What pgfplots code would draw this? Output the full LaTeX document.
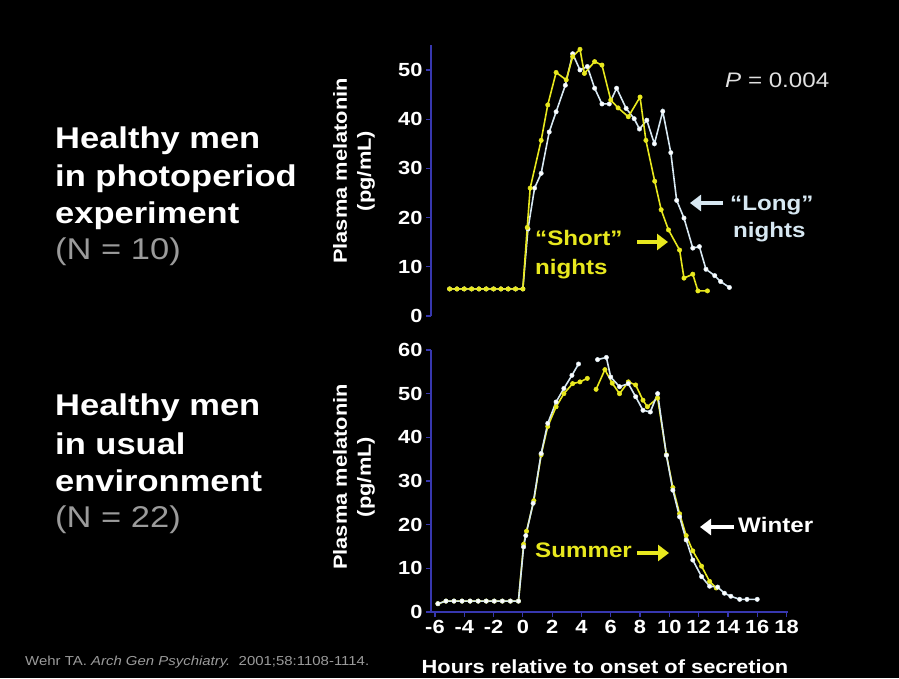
\documentclass[border=0pt]{standalone}
\usepackage{fontspec}
\setmainfont{Liberation Sans}[FakeStretch=1.15]
\usepackage{pgfplots}
\pgfplotsset{compat=1.18}
\usetikzlibrary{arrows.meta}
\definecolor{axblue}{RGB}{55,55,175}
\definecolor{ylw}{RGB}{232,232,30}
\definecolor{lng}{RGB}{215,232,242}
\definecolor{gry}{RGB}{155,155,155}
\definecolor{ptxt}{RGB}{225,225,225}
\pgfplotsset{melstyle/.style={
  scale only axis, width=357pt, xmin=-6.27, xmax=18.1,
  axis x line*=bottom, axis y line*=left,
  axis line style={axblue, line width=1.4pt},
  tick style={axblue, line width=1.2pt}, tick align=outside, major tick length=5pt,
  /pgf/number format/assume math mode=true,
  every tick label/.append style={text=white, font=\bfseries\fontsize{19}{21}\selectfont},
  unbounded coords=jump, clip=false,
},
wline/.style={lng, line width=1.6pt, mark=*, mark size=2.2pt, mark options={fill=white, draw=lng, line width=0.5pt}},
yline/.style={ylw, line width=1.6pt, mark=*, mark size=2.2pt, mark options={fill=ylw, draw=ylw, line width=0.5pt}},
}
\begin{document}
\begin{tikzpicture}[x=1pt,y=1pt]
\fill[black] (0,0) rectangle (899,678);

% ---------- top axis ----------
\begin{axis}[melstyle, at={(431pt,362pt)}, anchor=south west, height=270.6pt,
  ymin=0, ymax=55, hide x axis, ytick={0,10,...,50}]
\addplot[wline] coordinates {
(-5,5.5)(-4.5,5.5)(-4,5.5)(-3.5,5.5)(-3,5.5)(-2.5,5.5)(-2,5.5)(-1.5,5.5)(-1,5.5)(-0.5,5.5)(0,5.5)
(0.35,17.7)(0.8,26)(1.25,29)(1.8,37.4)(2.27,41.5)(2.9,46.9)(3.4,53.3)(3.9,50)(4.4,50.7)
(4.9,46.3)(5.4,43.1)(5.9,43.1)(6.4,46.3)(7.05,42.2)(7.6,40.1)(7.96,38)(8.46,39.8)(8.98,35)
(9.55,41.6)(10.1,33.2)(10.5,23.5)(11.0,19.9)(11.6,13.8)(12.05,14.1)(12.5,9.5)(13.1,8.2)
(13.5,7)(14.1,5.8)};
\addplot[yline] coordinates {
(-5,5.5)(-4.5,5.5)(-4,5.5)(-3.5,5.5)(-3,5.5)(-2.5,5.5)(-2,5.5)(-1.5,5.5)(-1,5.5)(-0.5,5.5)(0,5.5)
(0.3,18)(0.5,26)(1.25,35.7)(1.7,42.9)(2.27,49.5)(2.96,48)(3.4,52.7)(3.9,54.2)(4.2,49.3)
(4.9,51.7)(5.4,51)(6.0,43.9)(6.5,42.3)(7.2,40.5)(8.0,44.5)(8.4,35.7)(9.0,27.4)(9.44,21.6)
(9.94,17.5)(10.7,13.4)(11.0,7.7)(11.6,8.5)(11.95,5.1)(12.6,5.1)};
\end{axis}

% ---------- bottom axis ----------
\begin{axis}[melstyle, at={(431pt,66pt)}, anchor=south west, height=262pt,
  ymin=0, ymax=60, xtick={-6,-4,...,18}, ytick={0,10,...,60}]
\addplot[yline] coordinates {
(-5.8,1.9)(-5.25,2.5)(-4.7,2.5)(-4.15,2.5)(-3.6,2.5)(-3.05,2.5)(-2.5,2.5)(-1.95,2.5)(-1.4,2.5)(-0.85,2.5)(-0.3,2.5)
(0.05,15.5)(0.25,18.5)(0.75,25.5)(1.25,36)(1.7,42.5)(2.27,47)(2.8,50)(3.4,52.3)(3.9,52.7)(4.4,53.5)
(4.7,nan)
(5.0,51)(5.6,55.5)(6.1,52.4)(6.6,50)(7.2,52.7)(7.7,52)(8.2,48.5)(8.5,47)(9.2,49)
(9.8,36)(10.24,28.5)(10.7,22.5)(11.15,17.5)(11.6,14)(12.2,10.5)(12.75,7)(13.2,5.5)};
\addplot[wline] coordinates {
(-5.8,1.9)(-5.25,2.5)(-4.7,2.5)(-4.15,2.5)(-3.6,2.5)(-3.05,2.5)(-2.5,2.5)(-1.95,2.5)(-1.4,2.5)(-0.85,2.5)(-0.3,2.5)
(0.05,14.9)(0.2,17.5)(0.7,24.9)(1.25,36.3)(1.7,43.2)(2.27,48.1)(2.8,51.2)(3.35,54.2)(3.8,56.8)
(4.4,nan)
(5.1,57.8)(5.7,58.3)(6.0,53.8)(6.6,51.6)(7.2,52.3)(7.7,49.3)(8.2,46.2)(8.7,45.8)(9.2,50)
(9.8,35.9)(10.24,27.9)(10.7,21.8)(11.15,16.5)(11.6,11.9)(12.2,8.1)(12.75,5.9)(13.3,5.7)
(13.76,4.3)(14.2,3.6)(14.8,2.9)(15.3,2.9)(16.0,2.9)};
\end{axis}

% ---------- axis labels ----------
\node[rotate=90, align=center, text=white, font=\bfseries\fontsize{19}{24}\selectfont] at (354,507) {Plasma melatonin\\(pg/mL)};
\node[rotate=90, align=center, text=white, font=\bfseries\fontsize{19}{24}\selectfont] at (354,201) {Plasma melatonin\\(pg/mL)};
\node[anchor=base, text=white, font=\bfseries\fontsize{19}{22}\selectfont] at (605,5) {Hours relative to onset of secretion};

% ---------- left texts ----------
\begin{scope}[every node/.style={anchor=base west, font=\bfseries\fontsize{30}{34}\selectfont, text=white, inner sep=0pt}]
\node at (55,529) {Healthy men};
\node at (55,491) {in photoperiod};
\node at (55,454) {experiment};
\node[font=\fontsize{30}{34}\selectfont, text=gry] at (55,418) {(N = 10)};
\node at (55,262) {Healthy men};
\node at (55,224) {in usual};
\node at (55,187) {environment};
\node[font=\fontsize{30}{34}\selectfont, text=gry] at (55,151) {(N = 22)};
\end{scope}

% ---------- annotations ----------
\begin{scope}[every node/.style={anchor=base west, inner sep=0pt, font=\bfseries\fontsize{21}{24}\selectfont}]
\node[text=lng] at (730,467) {“Long”};
\node[text=lng] at (733,440) {nights};
\node[text=ylw] at (535,432) {“Short”};
\node[text=ylw] at (535,403) {nights};
\node[text=white] at (738,146) {Winter};
\node[text=ylw] at (535,121) {Summer};
\end{scope}
\draw[lng, line width=3.5pt, -{Triangle[length=11pt,width=16pt]}] (723,475) -- (690,475);
\draw[ylw, line width=3.5pt, -{Triangle[length=11pt,width=16pt]}] (637,436) -- (668,436);
\draw[white, line width=3.5pt, -{Triangle[length=11pt,width=16pt]}] (734,151) -- (700,151);
\draw[ylw, line width=3.5pt, -{Triangle[length=11pt,width=16pt]}] (637,125) -- (669,125);

\node[anchor=base west, inner sep=0pt, text=ptxt, font=\fontsize{21}{24}\selectfont] at (725,590) {\textit{P} = 0.004};
\node[anchor=base west, inner sep=0pt, text=gry, font=\fontsize{13}{15}\selectfont] at (25,13) {Wehr TA. \textit{Arch Gen Psychiatry.}\ \ 2001;58:1108-1114.};

\pgfresetboundingbox
\path (0,0) rectangle (899,678);
\end{tikzpicture}
\end{document}
